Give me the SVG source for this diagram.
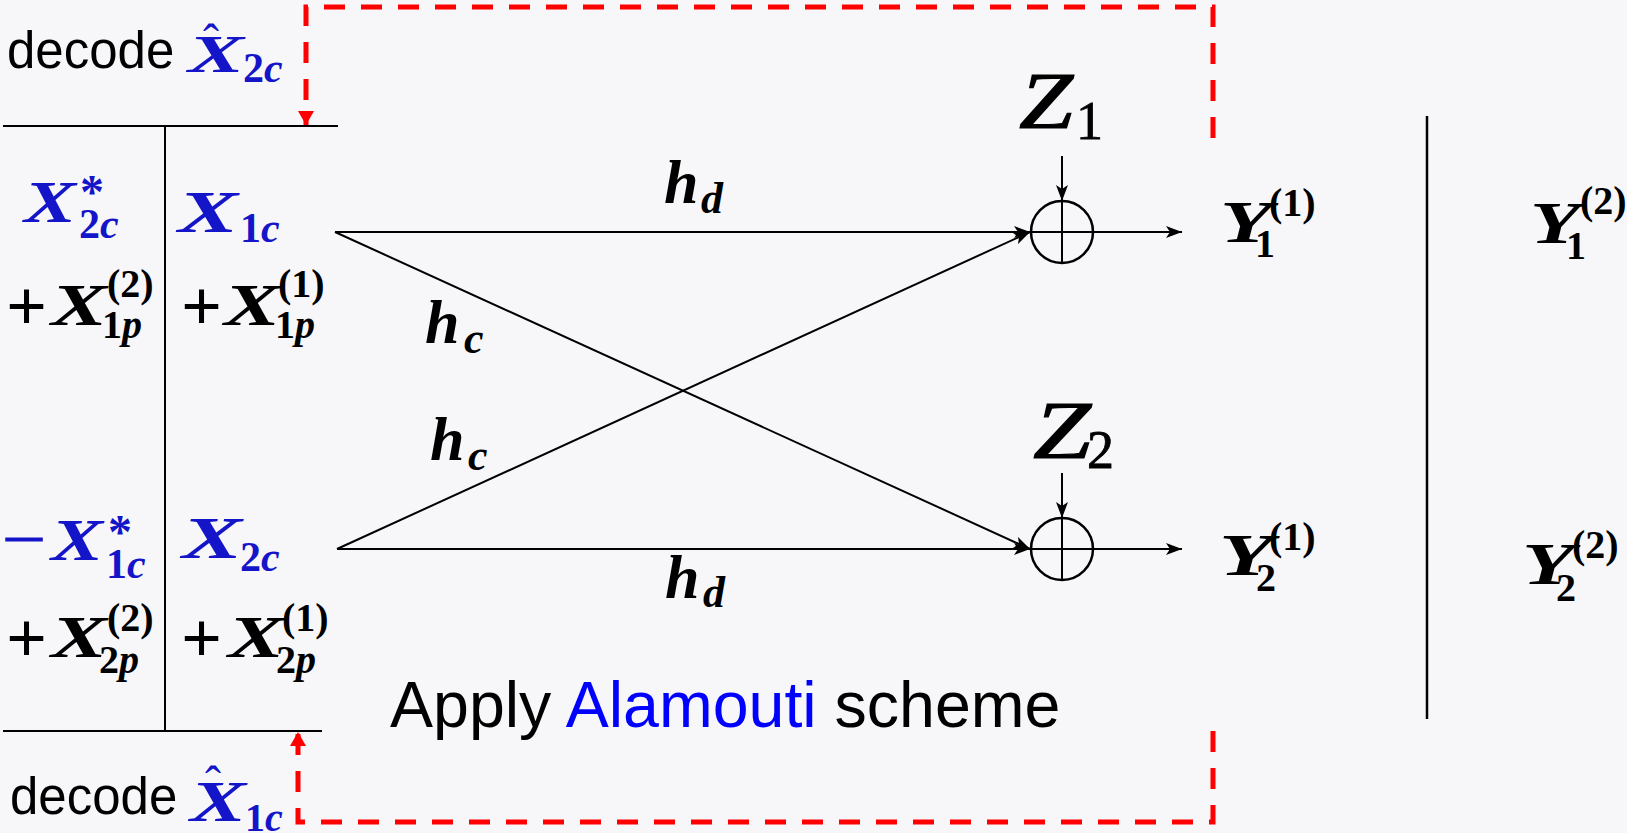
<svg xmlns="http://www.w3.org/2000/svg" width="1627" height="833" viewBox="0 0 1627 833">
<style>
.bg{fill:#f7f7fa}
.ln{stroke:#000;stroke-width:2;fill:none}
.red{stroke:#ff0000;stroke-width:5;fill:none;stroke-dasharray:21 16}
.sans{font-family:"Liberation Sans",Arial,sans-serif}
.m{font-family:"Liberation Serif","Times New Roman",serif;font-style:italic;font-weight:bold}
.u{font-family:"Liberation Serif","Times New Roman",serif;font-style:normal;font-weight:bold}
.r{font-family:"Liberation Serif","Times New Roman",serif;font-style:normal;font-weight:normal}
.zi{font-family:"Liberation Serif","Times New Roman",serif;font-style:italic;font-weight:normal}
.b{fill:#1414c8}
.k{fill:#000}
</style>
<defs>
<marker id="ah" viewBox="0 0 16 12" refX="16" refY="6" markerWidth="16" markerHeight="12" orient="auto" markerUnits="userSpaceOnUse"><path d="M0,0 L16,6 L0,12 L4,6 z" fill="#000"/></marker>
<marker id="ra" viewBox="0 0 14 16" refX="14" refY="8" markerWidth="14" markerHeight="16" orient="auto" markerUnits="userSpaceOnUse"><path d="M0,0 L14,8 L0,16 z" fill="#ff0000"/></marker>
</defs>
<rect class="bg" x="0" y="0" width="1627" height="833"/>

<g id="frame">
<line class="ln" x1="3" y1="126" x2="338" y2="126"/>
<line class="ln" x1="3" y1="731" x2="322" y2="731"/>
<line class="ln" x1="165" y1="126" x2="165" y2="731"/>
<line class="ln" x1="1427" y1="116" x2="1427" y2="719" style="stroke-width:2.5"/>
</g>

<g id="connectors">
<line class="ln" x1="335" y1="232" x2="1030" y2="232" marker-end="url(#ah)"/>
<line class="ln" x1="335" y1="232" x2="1030" y2="549" marker-end="url(#ah)"/>
<line class="ln" x1="337" y1="549" x2="1030" y2="232" marker-end="url(#ah)"/>
<line class="ln" x1="337" y1="549" x2="1030" y2="549" marker-end="url(#ah)"/>
<line class="ln" x1="1062" y1="156" x2="1062" y2="201" marker-end="url(#ah)"/>
<line class="ln" x1="1062" y1="473" x2="1062" y2="518" marker-end="url(#ah)"/>
<line class="ln" x1="1093" y1="232" x2="1182" y2="232" marker-end="url(#ah)"/>
<line class="ln" x1="1093" y1="549" x2="1182" y2="549" marker-end="url(#ah)"/>
<path class="red" d="M1213,138 V7 H306 V125" marker-end="url(#ra)"/>
<path class="red" d="M1213,731 V822 H298 V732" marker-end="url(#ra)"/>
</g>

<g id="adder1">
<circle cx="1062" cy="232" r="31" class="ln" style="stroke-width:2.5"/>
<line class="ln" x1="1031" y1="232" x2="1093" y2="232"/>
<line class="ln" x1="1062" y1="201" x2="1062" y2="263"/>
</g>
<g id="adder2">
<circle cx="1062" cy="549" r="31" class="ln" style="stroke-width:2.5"/>
<line class="ln" x1="1031" y1="549" x2="1093" y2="549"/>
<line class="ln" x1="1062" y1="518" x2="1062" y2="580"/>
</g>

<g id="noise1">
<text class="zi k" x="1019" y="128" font-size="80" textLength="54" lengthAdjust="spacingAndGlyphs" stroke="#000" stroke-width="1.2">Z</text>
<text class="r k" x="1076" y="139" font-size="54" stroke="#000" stroke-width="0.8">1</text>
</g>
<g id="noise2">
<text class="zi k" x="1033" y="458" font-size="82" textLength="58" lengthAdjust="spacingAndGlyphs" stroke="#000" stroke-width="1.2">Z</text>
<text class="r k" x="1087" y="468" font-size="54" stroke="#000" stroke-width="0.8">2</text>
</g>

<g id="labels-h">
<text class="m k" x="664" y="203" font-size="62">h</text>
<text class="m k" x="701" y="213" font-size="44">d</text>
<text class="m k" x="425" y="343" font-size="62">h</text>
<text class="m k" x="464" y="353" font-size="44">c</text>
<text class="m k" x="430" y="460" font-size="62">h</text>
<text class="m k" x="468" y="470" font-size="44">c</text>
<text class="m k" x="665" y="598" font-size="62">h</text>
<text class="m k" x="703" y="607" font-size="44">d</text>
</g>

<g id="out-y1-1">
<text class="m k" x="1220" y="242" font-size="60" textLength="52" lengthAdjust="spacingAndGlyphs">Y</text>
<text class="u k" x="1255" y="257" font-size="40">1</text>
<text class="u k" x="1269" y="216" font-size="40">(1)</text>
</g>
<g id="out-y2-1">
<text class="m k" x="1219" y="575" font-size="60" textLength="54" lengthAdjust="spacingAndGlyphs">Y</text>
<text class="u k" x="1256" y="591" font-size="40">2</text>
<text class="u k" x="1269" y="550" font-size="40">(1)</text>
</g>
<g id="out-y1-2">
<text class="m k" x="1530" y="243" font-size="60" textLength="50" lengthAdjust="spacingAndGlyphs">Y</text>
<text class="u k" x="1566" y="259" font-size="40">1</text>
<text class="u k" x="1580" y="214" font-size="40">(2)</text>
</g>
<g id="out-y2-2">
<text class="m k" x="1522" y="584" font-size="60" textLength="52" lengthAdjust="spacingAndGlyphs">Y</text>
<text class="u k" x="1556" y="601" font-size="40">2</text>
<text class="u k" x="1572" y="558" font-size="40">(2)</text>
</g>

<g id="decode-top">
<text class="sans k" x="7" y="68" font-size="51">decode</text>
<text class="m b" x="188" y="72" font-size="52" textLength="56" lengthAdjust="spacingAndGlyphs">X</text>
<text class="r b" x="203" y="58" font-size="48">ˆ</text>
<text class="u b" x="243" y="82" font-size="42">2<tspan class="m">c</tspan></text>
</g>

<g id="decode-bottom">
<text class="sans k" x="10" y="814" font-size="51">decode</text>
<text class="m b" x="190" y="821" font-size="58" textLength="56" lengthAdjust="spacingAndGlyphs">X</text>
<text class="r b" x="205" y="800" font-size="48">ˆ</text>
<text class="u b" x="245" y="831" font-size="40">1<tspan class="m">c</tspan></text>
</g>

<g id="tx1-slot2-top">
<text class="m b" x="24" y="222" font-size="60" textLength="52" lengthAdjust="spacingAndGlyphs">X</text>
<text class="u b" x="80" y="208" font-size="48">*</text>
<text class="u b" x="79" y="238" font-size="42">2<tspan class="m">c</tspan></text>
</g>
<g id="tx1-slot1-top">
<text class="m b" x="178" y="232" font-size="60" textLength="60" lengthAdjust="spacingAndGlyphs">X</text>
<text class="u b" x="240" y="242" font-size="42">1<tspan class="m">c</tspan></text>
</g>
<g id="tx1-slot2-p">
<text class="u k" x="6" y="330" font-size="72">+</text>
<text class="m k" x="51" y="325" font-size="60" textLength="56" lengthAdjust="spacingAndGlyphs">X</text>
<text class="u k" x="107" y="297" font-size="40">(2)</text>
<text class="u k" x="102" y="338" font-size="40">1<tspan class="m">p</tspan></text>
</g>
<g id="tx1-slot1-p">
<text class="u k" x="181" y="330" font-size="72">+</text>
<text class="m k" x="224" y="325" font-size="60" textLength="56" lengthAdjust="spacingAndGlyphs">X</text>
<text class="u k" x="278" y="297" font-size="40">(1)</text>
<text class="u k" x="275" y="338" font-size="40">1<tspan class="m">p</tspan></text>
</g>

<g id="tx2-slot2-top">
<text class="r b" x="2" y="560" font-size="62" textLength="44" lengthAdjust="spacingAndGlyphs" stroke="#1414c8" stroke-width="1">−</text>
<text class="m b" x="51" y="560" font-size="60" textLength="52" lengthAdjust="spacingAndGlyphs">X</text>
<text class="u b" x="108" y="548" font-size="48">*</text>
<text class="u b" x="106" y="578" font-size="42">1<tspan class="m">c</tspan></text>
</g>
<g id="tx2-slot1-top">
<text class="m b" x="182" y="558" font-size="60" textLength="60" lengthAdjust="spacingAndGlyphs">X</text>
<text class="u b" x="240" y="571" font-size="42">2<tspan class="m">c</tspan></text>
</g>
<g id="tx2-slot2-p">
<text class="u k" x="6" y="662" font-size="72">+</text>
<text class="m k" x="51" y="657" font-size="60" textLength="56" lengthAdjust="spacingAndGlyphs">X</text>
<text class="u k" x="107" y="631" font-size="40">(2)</text>
<text class="u k" x="99" y="673" font-size="40">2<tspan class="m">p</tspan></text>
</g>
<g id="tx2-slot1-p">
<text class="u k" x="181" y="662" font-size="72">+</text>
<text class="m k" x="228" y="657" font-size="60" textLength="56" lengthAdjust="spacingAndGlyphs">X</text>
<text class="u k" x="282" y="631" font-size="40">(1)</text>
<text class="u k" x="276" y="673" font-size="40">2<tspan class="m">p</tspan></text>
</g>

<g id="caption">
<text class="sans k" x="390" y="727" font-size="64.5">Apply <tspan fill="#0000ff">Alamouti</tspan> scheme</text>
</g>
</svg>
